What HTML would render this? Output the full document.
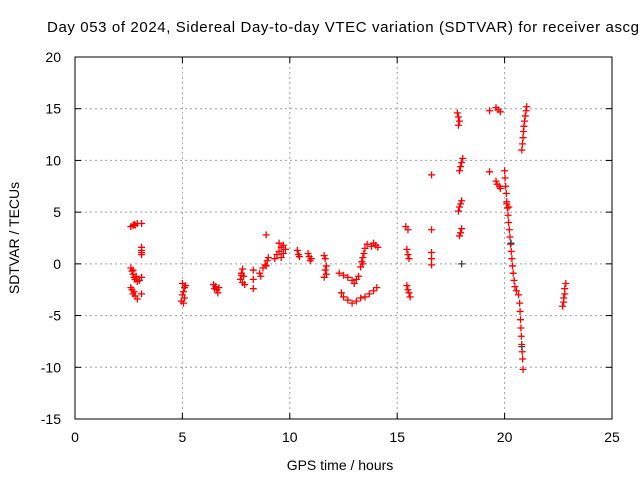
<!DOCTYPE html>
<html><head><meta charset="utf-8"><style>
html,body{margin:0;padding:0;background:#fff;}
svg{display:block;font-family:"Liberation Sans",sans-serif;}
</style></head><body>
<svg id="chart" width="640" height="480" xmlns="http://www.w3.org/2000/svg">
<text x="47" y="32" font-size="15" textLength="592" lengthAdjust="spacing" fill="#000">Day 053 of 2024, Sidereal Day-to-day VTEC variation (SDTVAR) for receiver ascg</text>
<g id="grid"></g>
<g id="axes"></g>
<g id="marks"></g>
<text x="340" y="470" font-size="14" text-anchor="middle">GPS time / hours</text>
<text x="0" y="0" font-size="14" text-anchor="middle" transform="translate(19,238) rotate(-90)">SDTVAR / TECUs</text>
</svg>
<script>
const xTicks=[0,5,10,15,20,25];
const yTicks=[-15,-10,-5,0,5,10,15,20];
const redHours=[2.6,2.7,2.75,2.8,2.9,3.1,3.1,3.1,3.1,3.1,2.6,2.65,2.7,2.75,2.8,2.9,3.0,3.1,2.7,2.85,2.6,2.65,2.7,2.8,2.9,3.1,2.75,
5.0,5.1,5.05,5.0,5.1,4.95,5.05,5.15,6.45,6.55,6.6,6.65,6.5,6.7,7.8,7.75,7.85,7.7,7.8,7.9,7.75,8.3,8.3,8.3,
8.6,8.65,8.75,8.85,8.95,9.0,8.9,8.9,9.3,9.4,9.5,9.6,9.5,9.7,9.6,9.7,9.8,10.35,10.4,10.45,10.85,10.9,10.95,11.0,
11.6,11.65,11.7,11.65,11.7,11.6,12.3,12.5,12.7,12.9,13.0,13.1,13.2,12.4,12.5,12.7,12.9,13.1,13.3,13.5,13.7,13.9,14.05,
13.3,13.35,13.4,13.45,13.5,13.6,13.4,13.8,13.9,14.0,14.1,15.4,15.5,15.45,15.5,15.55,15.45,15.5,15.55,15.6,
16.6,16.6,16.6,16.6,16.6,17.8,17.85,17.9,17.85,17.9,17.95,18.0,18.05,17.85,17.9,17.95,18.0,17.9,17.95,18.0,
19.3,19.6,19.7,19.8,19.3,19.6,19.65,19.75,19.8,
20.0,20.02,20.05,20.08,20.1,20.13,20.16,20.19,20.22,20.25,20.28,20.31,20.34,20.37,20.4,20.44,20.48,20.55,20.65,20.7,20.72,20.74,20.76,20.78,20.8,20.82,20.84,20.86,20.1,20.2,
20.8,20.83,20.86,20.88,20.9,20.93,20.96,21.0,21.03,22.7,22.75,22.75,22.8,22.8,22.85];
const redValues=[3.6,3.7,3.8,3.75,3.9,3.9,1.6,1.3,1.1,0.9,-0.4,-0.7,-1.0,-1.3,-1.5,-1.7,-1.6,-1.3,-0.6,-1.2,-2.3,-2.5,-2.9,-3.1,-3.4,-2.9,-2.7,
-1.9,-2.3,-2.7,-3.0,-3.3,-3.6,-3.8,-2.1,-2.0,-2.2,-2.5,-2.8,-2.4,-2.3,-0.5,-0.9,-1.2,-1.5,-1.8,-2.0,-1.1,-0.6,-1.5,-2.4,
-0.9,-1.2,-0.4,-0.1,0.3,0.6,-0.2,2.8,0.5,0.9,1.2,1.6,2.0,1.8,0.6,1.0,1.4,1.3,0.9,0.7,1.0,0.7,0.3,0.5,
0.8,0.5,-0.2,-0.6,-1.0,-1.3,-0.9,-1.1,-1.3,-1.6,-1.9,-1.5,-1.2,-2.8,-3.2,-3.5,-3.8,-3.6,-3.3,-3.2,-2.9,-2.6,-2.3,
-0.3,0.2,0.6,1.0,1.5,1.9,0.0,1.7,2.0,1.8,1.6,3.6,3.3,1.4,0.9,0.5,-2.1,-2.5,-2.8,-3.2,
8.6,3.3,1.1,0.5,-0.1,14.6,14.2,13.8,13.4,9.0,9.4,9.8,10.2,5.1,5.5,5.8,6.1,2.7,3.0,3.4,
14.8,15.1,14.9,14.7,8.9,8.0,7.7,7.5,7.3,
9.0,8.3,7.5,6.8,6.0,5.4,4.7,4.0,3.3,2.6,1.9,1.2,0.5,-0.2,-0.9,-1.6,-2.2,-2.6,-3.0,-3.8,-4.6,-5.4,-6.2,-7.0,-7.8,-8.5,-9.2,-10.2,5.8,5.5,
11.0,11.6,12.2,12.8,13.3,13.8,14.3,14.8,15.2,-4.1,-3.7,-3.3,-2.9,-2.4,-1.9];
const blackHours=[18.0,20.3,20.8];
const blackValues=[0.0,2.0,-8.0];
const NS="http://www.w3.org/2000/svg";
const L=75,R=612,T=57,B=419,xMin=0,xMax=25,yMin=-15,yMax=20;
function sx(v){return L+(v-xMin)/(xMax-xMin)*(R-L);}
function sy(v){return B-(v-yMin)/(yMax-yMin)*(B-T);}
function mk(tag,attrs,parent){const e=document.createElementNS(NS,tag);for(const k in attrs)e.setAttribute(k,attrs[k]);parent.appendChild(e);return e;}
const grid=document.getElementById('grid'),axes=document.getElementById('axes'),marks=document.getElementById('marks');
xTicks.forEach(t=>{const x=sx(t);
 if(t>xMin&&t<xMax){const g=mk('line',{x1:x,y1:T,x2:x,y2:B,stroke:'#a0a0a0','stroke-dasharray':'2,3'},grid);
 
 }
 mk('line',{x1:x,y1:B,x2:x,y2:B-6,stroke:'#000'},axes);
 mk('line',{x1:x,y1:T,x2:x,y2:T+6,stroke:'#000'},axes);
 const tx=mk('text',{x:x,y:B+23,'font-size':14,'text-anchor':'middle'},axes);tx.textContent=t;
 
 });
yTicks.forEach(t=>{const y=sy(t);
 if(t>yMin&&t<yMax){const g=mk('line',{x1:L,y1:y,x2:R,y2:y,stroke:'#a0a0a0','stroke-dasharray':'2,3'},grid);
 
 }
 mk('line',{x1:L,y1:y,x2:L+6,y2:y,stroke:'#000'},axes);
 mk('line',{x1:R,y1:y,x2:R-6,y2:y,stroke:'#000'},axes);
 const tx=mk('text',{x:L-14,y:y+5,'font-size':14,'text-anchor':'end'},axes);tx.textContent=t;
 
 });
const border=mk('rect',{x:L,y:T,width:R-L,height:B-T,fill:'none',stroke:'#000'},axes);


function plus(h,v,color){const x=sx(h),y=sy(v);
 const p=mk('path',{d:`M${x-3.5},${y}H${x+3.5}M${x},${y-3.5}V${y+3.5}`,stroke:color,'stroke-width':1.3,fill:'none'},marks);
 
 }
redHours.forEach((h,i)=>plus(h,redValues[i],'#ff0000'));
blackHours.forEach((h,i)=>plus(h,blackValues[i],'#444'));
</script>
</body></html>
